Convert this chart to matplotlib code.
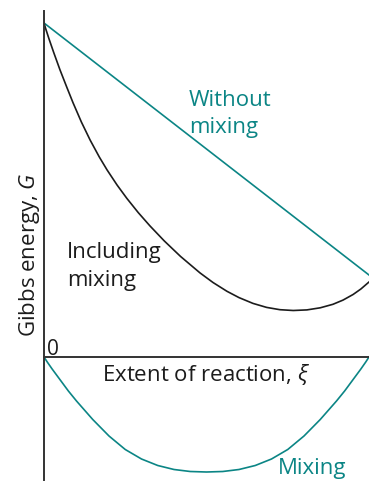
import matplotlib.pyplot as plt

# Gibbs energy against extent of reaction (arbitrary units)
xi_line = [0.0, 1.0]
g_without_mixing = [3.34, 0.82]

xi_total = [0.0, 0.005, 0.015, 0.03, 0.049, 0.07, 0.089, 0.115, 0.142, 0.17,
            0.194, 0.225, 0.255, 0.29, 0.326, 0.37, 0.42, 0.48, 0.52, 0.563,
            0.6, 0.643, 0.685, 0.726, 0.767, 0.809, 0.85, 0.889, 0.92, 0.951,
            0.975, 1.0]
g_including_mixing = [3.34, 3.285, 3.185, 3.044, 2.873, 2.699, 2.545, 2.35, 2.169, 2.001,
                      1.871, 1.719, 1.586, 1.444, 1.311, 1.161, 1.006, 0.841, 0.745, 0.657,
                      0.594, 0.536, 0.496, 0.473, 0.465, 0.471, 0.492, 0.527, 0.569, 0.625,
                      0.68, 0.75]

xi_mix = [0.0, 0.01, 0.025, 0.05, 0.075, 0.1, 0.15, 0.2, 0.25, 0.3, 0.35, 0.4,
          0.45, 0.5, 0.55, 0.6, 0.65, 0.7, 0.75, 0.8, 0.85, 0.9, 0.925, 0.95,
          0.975, 0.99, 1.0]
g_mixing = [0.0, -0.05, -0.12, -0.23, -0.34, -0.44, -0.625, -0.79, -0.925, -1.02,
            -1.085, -1.125, -1.145, -1.15, -1.145, -1.125, -1.085, -1.02, -0.925,
            -0.79, -0.625, -0.44, -0.34, -0.23, -0.12, -0.05, 0.0]

TEAL = "#0b8585"
INK = "#1c1c1c"

plt.rcParams["font.family"] = ["Open Sans", "DejaVu Sans"]
plt.rcParams["mathtext.fontset"] = "custom"
plt.rcParams["mathtext.it"] = "Open Sans:italic"
plt.rcParams["mathtext.rm"] = "Open Sans"

W, H = 369, 482
fig = plt.figure(figsize=(W / 100, H / 100), dpi=100)
ax = fig.add_axes([44 / W, 2 / H, 325 / W, 469 / H])
ax.set_xlim(0, 1)
ax.set_ylim(-1.23, 3.46)

ax.plot(xi_line, g_without_mixing, color=TEAL, lw=1.2)
ax.plot(xi_total, g_including_mixing, color=INK, lw=1.2)
ax.plot(xi_mix, g_mixing, color=TEAL, lw=1.2)

# axes drawn as plain lines: vertical at xi=0, horizontal at G=0
for side in ["top", "right"]:
    ax.spines[side].set_visible(False)
ax.spines["left"].set_linewidth(1.4)
ax.spines["left"].set_color("#333333")
ax.spines["bottom"].set_position(("data", 0))
ax.spines["bottom"].set_linewidth(1.4)
ax.spines["bottom"].set_color("#333333")
ax.set_xticks([])
ax.set_yticks([])

fs = 16
ax.text(0.009, 0.02, "0", fontsize=fs - 1, color=INK, ha="left", va="baseline")
ax.text(0.178, -0.24, r"Extent of reaction, $\xi$", fontsize=fs, color=INK,
        ha="left", va="baseline")
ax.text(0.071, 0.99, "Including", fontsize=fs, color=INK, ha="left", va="baseline")
ax.text(0.071, 0.71, "mixing", fontsize=fs, color=INK, ha="left", va="baseline")
ax.text(0.446, 2.51, "Without", fontsize=fs, color=TEAL, ha="left", va="baseline")
ax.text(0.446, 2.24, "mixing", fontsize=fs, color=TEAL, ha="left", va="baseline")
ax.text(0.72, -1.17, "Mixing", fontsize=fs, color=TEAL, ha="left", va="baseline")

fig.text(35 / W, 1 - 255 / H, r"Gibbs energy, $G$", fontsize=16, color=INK,
         rotation=90, rotation_mode="anchor", ha="center", va="baseline")

fig.savefig("out.png", dpi=100)
